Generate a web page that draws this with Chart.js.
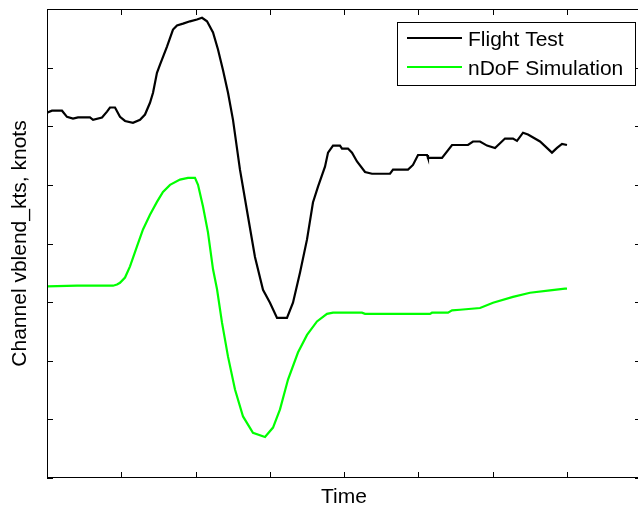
<!DOCTYPE html>
<html>
<head>
<meta charset="utf-8">
<style>
  html, body { margin: 0; padding: 0; background: #fff; overflow: hidden; }
  canvas { display: block; }
</style>
<script src="https://cdn.jsdelivr.net/npm/chart.js@4/dist/chart.umd.min.js"></script>
</head>
<body>
<canvas id="c" width="644" height="514" style="width:644px;height:514px"></canvas>
<script>
// ---- Data (time in arbitrary units, speed in arbitrary knots scale; axes carry no tick labels) ----
const seriesNames = ['Flight Test', 'nDoF Simulation'];
const xTickValues = [0, 10, 20, 30, 40, 50, 60, 70, 80];
const yTickValues = [0, 10, 20, 30, 40, 50, 60, 70, 80];

const timeFlight = [0, 0.67, 2.02, 2.69, 3.5, 4.18, 5.79, 6.2, 7.41, 8.08, 8.48, 9.16, 9.83, 10.51, 11.58, 12.53, 13.2, 13.87, 14.28, 14.81, 15.22, 16.16, 16.97, 17.51, 18.32, 19.26, 20.2, 20.88, 21.55, 22.36, 23.03, 23.7, 24.38, 25.05, 25.99, 27.07, 28.01, 29.09, 30.03, 30.98, 32.32, 33.13, 34.07, 35.02, 35.82, 36.5, 37.44, 37.85, 38.52, 39.46, 39.73, 40.54, 41.08, 41.75, 42.83, 43.77, 46.2, 46.6, 48.62, 49.29, 49.97, 51.18, 51.31, 53.2, 54.55, 56.7, 57.37, 58.32, 59.26, 60.34, 61.68, 62.76, 63.3, 64.11, 64.78, 66.4, 68.01, 68.69, 69.36, 70.03];
const speedFlight = [62.3, 62.65, 62.65, 61.6, 61.3, 61.5, 61.5, 61.1, 61.5, 62.5, 63.2, 63.2, 61.6, 60.9, 60.6, 61.1, 62.0, 64.0, 65.7, 69.1, 70.5, 73.6, 76.5, 77.2, 77.5, 77.9, 78.2, 78.5, 77.9, 76.0, 73.1, 69.6, 65.7, 61.1, 52.6, 44.6, 37.7, 32.1, 29.9, 27.3, 27.3, 29.9, 35.0, 40.7, 47.0, 49.7, 53.1, 55.5, 56.7, 56.7, 56.2, 56.2, 55.5, 54.0, 52.2, 51.9, 51.9, 52.6, 52.6, 53.4, 55.1, 55.1, 54.6, 54.6, 56.8, 56.8, 57.4, 57.4, 56.7, 56.3, 57.9, 57.9, 57.5, 58.9, 58.6, 57.4, 55.5, 56.3, 57.0, 56.8];

const timeSim = [0, 4.04, 7.14, 8.89, 9.43, 9.83, 10.51, 11.18, 12.12, 12.93, 13.87, 14.81, 15.62, 16.57, 17.91, 18.99, 19.93, 20.34, 21.01, 21.68, 22.36, 22.9, 23.57, 24.38, 25.32, 26.4, 27.74, 29.36, 30.44, 31.38, 32.46, 33.8, 35.02, 36.36, 37.71, 38.52, 42.42, 42.83, 51.58, 51.85, 54.01, 54.55, 55.62, 58.32, 60.07, 62.76, 65.05, 67.74, 69.76, 70.03];
const speedSim = [32.7, 32.8, 32.8, 32.8, 33.0, 33.3, 34.2, 36.1, 39.5, 42.4, 44.9, 47.1, 48.8, 50.0, 50.9, 51.2, 51.2, 50.0, 46.3, 41.9, 35.6, 32.2, 26.5, 20.7, 15.1, 10.5, 7.7, 7.0, 8.6, 11.7, 16.8, 21.4, 24.4, 26.7, 28.0, 28.2, 28.2, 28.0, 28.0, 28.2, 28.2, 28.6, 28.7, 29.0, 29.9, 30.9, 31.6, 32.0, 32.3, 32.3];

const seriesColors = ['#000000', '#00ff00'];

function toPoints(xs, ys) { return xs.map((v, i) => ({ x: v, y: ys[i] })); }

const FONT = 'Liberation Sans, Arial, Helvetica, sans-serif';

const matlabAxes = {
  id: 'matlabAxes',
  afterDraw(chart) {
    const { ctx, chartArea: { left, top, right, bottom }, scales: { x, y } } = chart;
    ctx.save();
    ctx.strokeStyle = '#000';
    ctx.lineWidth = 1;
    ctx.strokeRect(left + 0.5, top + 0.5, right - left - 1, bottom - top - 1);
    const tl = 6;
    ctx.beginPath();
    xTickValues.forEach(v => {
      const px = Math.round(x.getPixelForValue(v)) + 0.5;
      ctx.moveTo(px, bottom); ctx.lineTo(px, bottom - tl);
      ctx.moveTo(px, top); ctx.lineTo(px, top + tl);
    });
    yTickValues.forEach(v => {
      const py = Math.round(y.getPixelForValue(v)) + 0.5;
      ctx.moveTo(left, py); ctx.lineTo(left + tl, py);
      ctx.moveTo(right, py); ctx.lineTo(right - tl, py);
    });
    ctx.stroke();

    // legend box (MATLAB style, inside the axes, top-right)
    const bw = 238, bh = 63;
    const bx = right - 6 - bw, by = top + 13;
    ctx.fillStyle = '#fff';
    ctx.fillRect(bx, by, bw, bh);
    ctx.strokeRect(bx + 0.5, by + 0.5, bw, bh);
    ctx.font = '21px ' + FONT;
    ctx.textBaseline = 'alphabetic';
    chart.data.datasets.forEach((ds, i) => {
      const ly = by + 16 + i * 29;
      ctx.strokeStyle = ds.borderColor;
      ctx.lineWidth = 2;
      ctx.beginPath();
      ctx.moveTo(bx + 10, ly); ctx.lineTo(bx + 65, ly);
      ctx.stroke();
      ctx.fillStyle = '#000';
      ctx.fillText(ds.label, bx + 71, ly + 8);
    });
    ctx.restore();
  }
};

new Chart(document.getElementById('c'), {
  type: 'line',
  data: {
    datasets: [
      { label: seriesNames[0], data: toPoints(timeFlight, speedFlight), borderColor: seriesColors[0], backgroundColor: seriesColors[0], borderWidth: 2.2, pointRadius: 0, tension: 0, fill: false },
      { label: seriesNames[1], data: toPoints(timeSim, speedSim), borderColor: seriesColors[1], backgroundColor: seriesColors[1], borderWidth: 2.2, pointRadius: 0, tension: 0, fill: false }
    ]
  },
  options: {
    responsive: false,
    devicePixelRatio: 1,
    animation: false,
    events: [],
    layout: { padding: { top: 9, right: 3, left: 0, bottom: 0 } },
    plugins: { legend: { display: false }, tooltip: { enabled: false } },
    scales: {
      x: {
        type: 'linear', min: 0, max: 80,
        ticks: { display: false, stepSize: 10 },
        grid: { display: false, drawTicks: false },
        border: { display: false },
        title: { display: true, text: 'Time', color: '#000', font: { family: FONT, size: 21 }, padding: { top: 7, bottom: 3.8 } }
      },
      y: {
        type: 'linear', min: 0, max: 80,
        ticks: { display: false, stepSize: 10 },
        grid: { display: false, drawTicks: false },
        border: { display: false },
        title: { display: true, text: 'Channel vblend_kts, knots', color: '#000', font: { family: FONT, size: 21 }, padding: { top: 8, bottom: 13.8 } }
      }
    }
  },
  plugins: [matlabAxes]
});
</script>
</body>
</html>
